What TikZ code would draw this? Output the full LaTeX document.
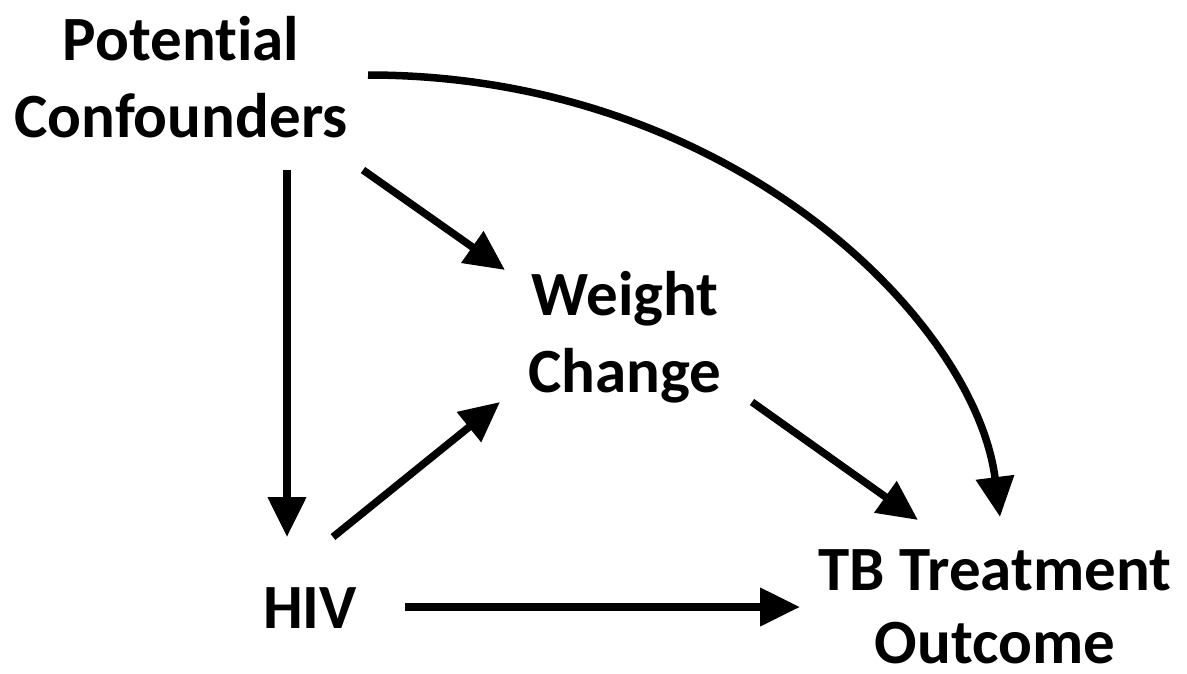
\documentclass[tikz,border=0pt]{standalone}
\usepackage{fontspec}
\setmainfont{Carlito}[Ligatures={NoCommon}]
\usetikzlibrary{arrows.meta}
\begin{document}
\begin{tikzpicture}[x=1pt,y=-1pt,
  lbl/.style={font=\fontsize{63}{77}\selectfont\bfseries, inner sep=0pt, anchor=base},
  arr/.style={line width=7.5pt, -{Triangle[length=40pt,width=37pt]}}]
\useasboundingbox (0,0) rectangle (1187,673);
\node[lbl] (pc1) at (181,60) {Potential};
\node[lbl] (pc2) at (181,137) {Confounders};
\node[lbl] (wc1) at (625,315) {Weight};
\node[lbl] (wc2) at (625,392) {Change};
\node[lbl] (hiv) at (310,628) {HIV};
\node[lbl] (tb1) at (995,590) {TB Treatment};
\node[lbl, text depth=0pt] (tb2) at (995,663) {Outcome};
% connector ends
\coordinate (pcS) at (287,170);
\coordinate (hivN) at (287,537);
\coordinate (pcE) at (363,170);
\coordinate (wcNW) at (505,270);
\coordinate (hivNE) at (333,537);
\coordinate (wcSW) at (500,402);
\coordinate (hivE) at (405,607);
\coordinate (tbW) at (800,607);
\coordinate (wcSE) at (752,402);
\coordinate (tbNW) at (918,520);
\coordinate (pcR) at (368,75);
\coordinate (tbN) at (1000,517);
\draw[arr] (pcS) -- (hivN);
\draw[arr] (pcE) -- (wcNW);
\draw[arr] (hivNE) -- (wcSW);
\draw[arr] (hivE) -- (tbW);
\draw[arr] (wcSE) -- (tbNW);
\draw[arr] (pcR) .. controls (730,75) and (975,320) .. (tbN);
\end{tikzpicture}
\end{document}
